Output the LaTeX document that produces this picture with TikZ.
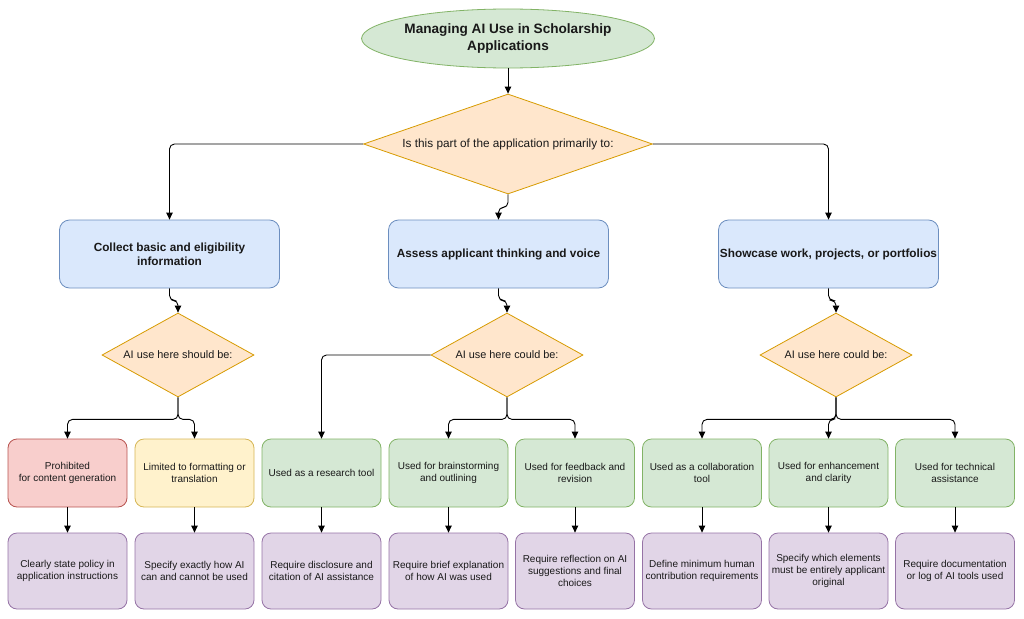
\documentclass[tikz,border=0pt]{standalone}
\usepackage{fontspec}
\setmainfont{Liberation Sans}
\usetikzlibrary{shapes.geometric,arrows.meta}
\definecolor{gfill}{HTML}{D5E8D4}\definecolor{gline}{HTML}{82B366}
\definecolor{ofill}{HTML}{FFE6CC}\definecolor{oline}{HTML}{D79B00}
\definecolor{bfill}{HTML}{DAE8FC}\definecolor{bline}{HTML}{6C8EBF}
\definecolor{rfill}{HTML}{F8CECC}\definecolor{rline}{HTML}{B85450}
\definecolor{yfill}{HTML}{FFF2CC}\definecolor{yline}{HTML}{D6B656}
\definecolor{pfill}{HTML}{E1D5E7}\definecolor{pline}{HTML}{9673A6}
\begin{document}
\begin{tikzpicture}[x=1pt,y=-1pt,
  every node/.style={inner sep=0pt, align=center, text=black!90},
  titlenode/.style={ellipse, draw=gline, fill=gfill, line width=0.8pt, minimum width=289pt, minimum height=59pt, font=\fontsize{13.6}{17}\selectfont\bfseries},
  bigdia/.style={diamond, draw=oline, fill=ofill, line width=0.8pt, minimum width=289pt, minimum height=100pt, aspect=2.89, font=\fontsize{11.8}{14}\selectfont},
  smalldia/.style={diamond, draw=oline, fill=ofill, line width=0.8pt, minimum width=152pt, minimum height=84pt, aspect=1.81, font=\fontsize{10.9}{13}\selectfont},
  catbox/.style={rounded corners=10pt, draw=bline, fill=bfill, line width=0.8pt, minimum width=220pt, minimum height=68pt, font=\fontsize{11.8}{14.3}\selectfont\bfseries},
  usebox/.style={rounded corners=9pt, draw=gline, fill=gfill, line width=0.8pt, minimum width=119pt, minimum height=68pt, font=\fontsize{10}{12.6}\selectfont},
  polbox/.style={rounded corners=9pt, draw=pline, fill=pfill, line width=0.8pt, minimum width=119pt, minimum height=76pt, font=\fontsize{10}{12.4}\selectfont},
  conn/.style={draw=black, line width=0.9pt, rounded corners=5pt, -{Triangle[length=7pt,width=6.5pt]}}
]
\useasboundingbox (0,0) rectangle (1024,618);

\node[titlenode] (title) at (508,38.5) {Managing AI Use in Scholarship\\Applications};
\node[bigdia] (d1) at (508,144) {Is this part of the application primarily to:};

\node[catbox] (b1) at (169.5,254) {Collect basic and eligibility\\information};
\node[catbox] (b2) at (498.5,254) {Assess applicant thinking and voice};
\node[catbox] (b3) at (828.5,254) {Showcase work, projects, or portfolios};

\node[smalldia] (d2) at (178,355) {AI use here should be:};
\node[smalldia] (d3) at (507,355) {AI use here could be:};
\node[smalldia] (d4) at (836,355) {AI use here could be:};

\node[usebox, draw=rline, fill=rfill] (u1) at (67.5,473) {Prohibited\\for content generation};
\node[usebox, draw=yline, fill=yfill] (u2) at (194.5,473) {Limited to formatting or\\translation};
\node[usebox] (u3) at (321.5,473) {Used as a research tool};
\node[usebox] (u4) at (448.5,473) {Used for brainstorming\\and outlining};
\node[usebox] (u5) at (575,473) {Used for feedback and\\revision};
\node[usebox] (u6) at (702,473) {Used as a collaboration\\tool};
\node[usebox] (u7) at (828.5,473) {Used for enhancement\\and clarity};
\node[usebox] (u8) at (955,473) {Used for technical\\assistance};

\node[polbox] (p1) at (67.5,571) {Clearly state policy in\\application instructions};
\node[polbox] (p2) at (194.5,571) {Specify exactly how AI\\can and cannot be used};
\node[polbox] (p3) at (321.5,571) {Require disclosure and\\citation of AI assistance};
\node[polbox] (p4) at (448.5,571) {Require brief explanation\\of how AI was used};
\node[polbox] (p5) at (575,571) {Require reflection on AI\\suggestions and final\\choices};
\node[polbox] (p6) at (702,571) {Define minimum human\\contribution requirements};
\node[polbox] (p7) at (828.5,571) {Specify which elements\\must be entirely applicant\\original};
\node[polbox] (p8) at (955,571) {Require documentation\\or log of AI tools used};

\draw[conn] (title.south) -- (d1.north);
\draw[conn] (d1.west) -| (b1.north);
\draw[conn] (d1.east) -| (b3.north);
\draw[conn] (d1.south) -- ++(0,13) -| (b2.north);

\draw[conn] (b1.south) -- ++(0,12) -| (d2.north);
\draw[conn] (b2.south) -- ++(0,12) -| (d3.north);
\draw[conn] (b3.south) -- ++(0,12) -| (d4.north);

\draw[conn] (d2.south) -- ++(0,22) -| (u1.north);
\draw[conn] (d2.south) -- ++(0,22) -| (u2.north);
\draw[conn] (d3.west) -| (u3.north);
\draw[conn] (d3.south) -- ++(0,22) -| (u4.north);
\draw[conn] (d3.south) -- ++(0,22) -| (u5.north);
\draw[conn] (d4.south) -- ++(0,22) -| (u6.north);
\draw[conn] (d4.south) -- ++(0,22) -| (u7.north);
\draw[conn] (d4.south) -- ++(0,22) -| (u8.north);

\foreach \i in {1,...,8} { \draw[conn] (u\i.south) -- (p\i.north); }
\end{tikzpicture}
\end{document}
